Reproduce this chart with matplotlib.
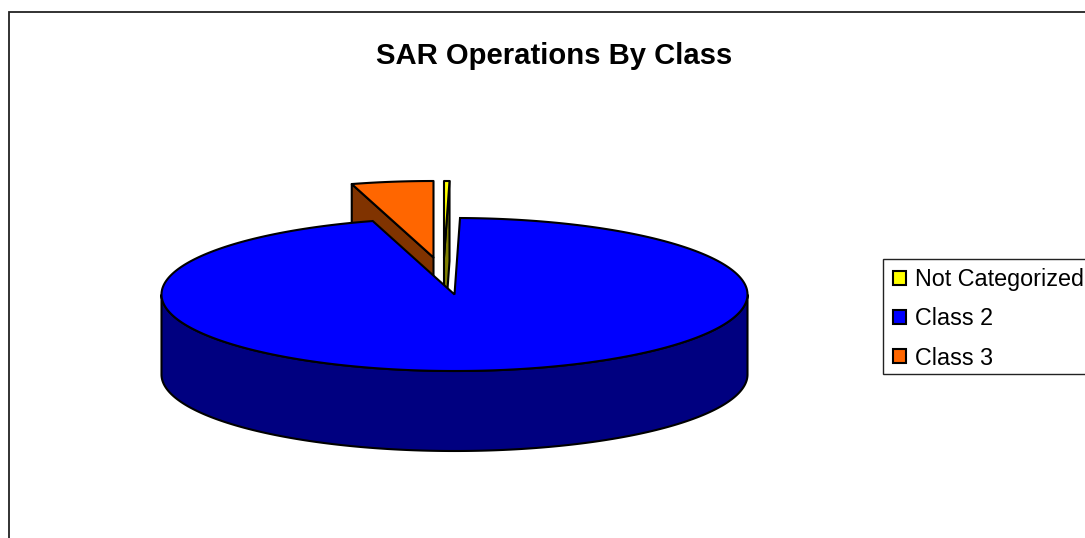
# SAR operations by class, drawn as an exploded 3D style pie
import numpy as np
import matplotlib
matplotlib.use('Agg')
import matplotlib.pyplot as plt
from matplotlib.patches import Polygon, Patch, Rectangle

plt.rcParams['font.family'] = ['Liberation Sans', 'DejaVu Sans']

title = 'SAR Operations By Class'
categories = ['Not Categorized', 'Class 2', 'Class 3']
values = [0.3, 95.2, 4.5]

top_colors = ['#FFFF00', '#0000FF', '#FF6600']
side_colors = ['#808000', '#000080', '#803300']
# how far each slice is pulled out of the pie, in pixels
explode = [(-10.5, -37), (0, 0), (-21, -37)]

cx, cy = 454.5, 294.5
rx, ry = 293, 76.5
depth = 80

fig = plt.figure(figsize=(10.85, 5.38), dpi=100)
ax = fig.add_axes([0, 0, 1, 1])
ax.set_xlim(0, 1085)
ax.set_ylim(538, 0)
ax.axis('off')

# outer chart border runs off the right and bottom of the picture
ax.plot([8.5, 8.5, 1090], [545, 11.5, 11.5], color='#222222', lw=1.3, solid_joinstyle='miter')


def rim(start, end, ox, oy):
    t = np.radians(np.linspace(start, end, max(int(abs(end - start)) * 2, 2)))
    return np.column_stack([cx + ox + rx * np.sin(t), cy + oy - ry * np.cos(t)])


# slice angles, clockwise from twelve o'clock
edges = np.concatenate([[0], np.cumsum(values)]) / np.sum(values) * 360
slices = list(zip(edges[:-1], edges[1:], top_colors, side_colors, explode))


def draw_slice(start, end, top, side, off, face_edge):
    ox, oy = off
    apex = np.array([[cx + ox, cy + oy]])
    arc = rim(start, end, ox, oy)
    down = np.array([0, depth])
    style = dict(edgecolor='black', lw=1.5, joinstyle='round')
    # radial wall that the viewer can see
    edge_pt = arc[0] if face_edge == 'start' else arc[-1]
    wall = np.vstack([edge_pt, apex[0], apex[0] + down, edge_pt + down])
    ax.add_patch(Polygon(wall, facecolor=side, **style))
    ax.add_patch(Polygon(np.vstack([apex, arc]), facecolor=top, **style))


# back slices first so the big slice covers their lower parts
draw_slice(*slices[2], 'start')
draw_slice(*slices[0], 'end')
start, end, top, side, off = slices[1]
front = rim(90, 270, 0, 0)
ax.add_patch(Polygon(np.vstack([front, front[::-1] + [0, depth]]), facecolor=side,
                     edgecolor='black', lw=1.5))
ax.add_patch(Polygon(np.vstack([[[cx, cy]], rim(start, end, 0, 0)]), facecolor=top,
                     edgecolor='black', lw=1.5))

ax.text(554.5, 55.5, title, ha='center', va='center', fontsize=21.1, fontweight='bold')

# legend box also runs off the right edge
ax.add_patch(Rectangle((883, 259), 210, 115, facecolor='white', edgecolor='#222222', lw=1.0))
handles = [Patch(facecolor=c, edgecolor='black', lw=1.5) for c in top_colors]
ax.legend(handles, categories, loc='upper left', bbox_to_anchor=(885, 260),
          bbox_transform=ax.transData, fontsize=16.85, frameon=False, borderaxespad=0,
          borderpad=0.34, handlelength=0.54, handleheight=0.54, handletextpad=0.39,
          labelspacing=0.70)

fig.savefig('out.png', dpi=100)
